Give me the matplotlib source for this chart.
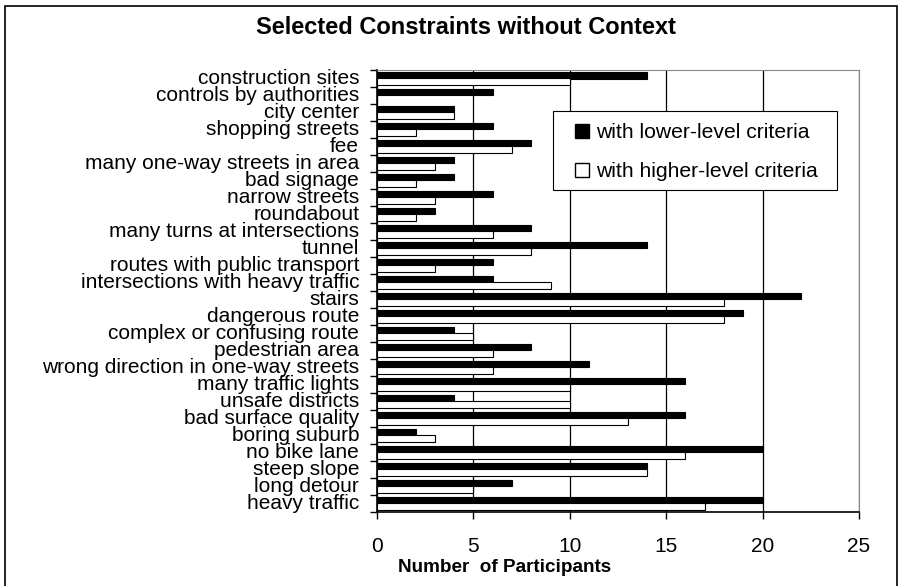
import matplotlib.pyplot as plt
import numpy as np
from matplotlib.patches import Rectangle, Patch

plt.rcParams['font.family'] = ['Liberation Sans', 'DejaVu Sans']

categories = [
    "construction sites", "controls by authorities", "city center",
    "shopping streets", "fee", "many one-way streets in area", "bad signage",
    "narrow streets", "roundabout", "many turns at intersections", "tunnel",
    "routes with public transport", "intersections with heavy traffic",
    "stairs", "dangerous route", "complex or confusing route",
    "pedestrian area", "wrong direction in one-way streets",
    "many traffic lights", "unsafe districts", "bad surface quality",
    "boring suburb", "no bike lane", "steep slope", "long detour",
    "heavy traffic",
]
lower_level = [14, 6, 4, 6, 8, 4, 4, 6, 3, 8, 14, 6, 6, 22, 19, 4, 8, 11,
               16, 4, 16, 2, 20, 14, 7, 20]
higher_level = [10, 0, 4, 2, 7, 3, 2, 3, 2, 6, 8, 3, 9, 18, 18, 5, 6, 6,
                10, 10, 13, 3, 16, 14, 5, 17]
x_ticks = [0, 5, 10, 15, 20, 25]

W, H = 901, 586
fig = plt.figure(figsize=(W / 100, H / 100), dpi=100)
ax = fig.add_axes([377 / W, 1 - 512 / H, (859 - 377) / W, (512 - 70) / H])

n = len(categories)
y = np.arange(n)
h = 0.36
ax.barh(y - h / 2, lower_level, height=h, color='black', edgecolor='black',
        linewidth=0.8, zorder=3)
ax.barh(y + h / 2, higher_level, height=h, color='white', edgecolor='black',
        linewidth=0.8, zorder=3)

ax.set_xlim(0, 25)
ax.set_ylim(n - 0.5, -0.5)
ax.set_xticks(x_ticks)
ax.set_xticklabels([str(t) for t in x_ticks], fontsize=15)
ax.tick_params(axis='x', length=5, width=1, pad=13)
ax.xaxis.grid(True, color='black', linewidth=0.9, zorder=0)
ax.set_axisbelow(True)

# category labels centred on each group, tick marks on group boundaries
ax.set_yticks(np.arange(n + 1) - 0.5)
ax.set_yticklabels([])
ax.tick_params(axis='y', length=5, width=1)
for i, name in enumerate(categories):
    ax.text(-0.037, i, name, transform=ax.get_yaxis_transform(),
            ha='right', va='center', fontsize=15)

for side in ('top', 'right'):
    ax.spines[side].set_color('#888888')
for side in ('left', 'bottom'):
    ax.spines[side].set_color('black')
    ax.spines[side].set_linewidth(1.2)

fig.text(505 / W, 1 - 568 / H, "Number  of Participants", ha='center',
         va='center', fontsize=13.6, fontweight='bold')

# legend box drawn as a plain rectangle, entries placed inside it
fig.patches.append(Rectangle((553 / W, 1 - 190 / H), (837 - 553) / W, 79 / H,
                             transform=fig.transFigure, facecolor='white',
                             edgecolor='black', linewidth=0.8, zorder=4))
handles = [Patch(facecolor='black', edgecolor='black', label='with lower-level criteria'),
           Patch(facecolor='white', edgecolor='black', label='with higher-level criteria')]
leg = fig.legend(handles=handles, loc='upper left',
                 bbox_to_anchor=(575 / W, 1 - 123 / H),
                 bbox_transform=fig.transFigure,
                 fontsize=15.2, frameon=False, handlelength=0.65,
                 handleheight=0.65, handletextpad=0.35, labelspacing=0.95,
                 borderpad=0, borderaxespad=0)
leg.set_zorder(5)

fig.text(466 / W, 1 - 27 / H, "Selected Constraints without Context",
         ha='center', va='center', fontsize=17, fontweight='bold')

fig.patches.append(Rectangle((5 / W, -0.02), 892 / W, 1 - 6 / H + 0.02,
                             transform=fig.transFigure, fill=False,
                             edgecolor='black', linewidth=1.2))

fig.savefig('out.png', dpi=100)
